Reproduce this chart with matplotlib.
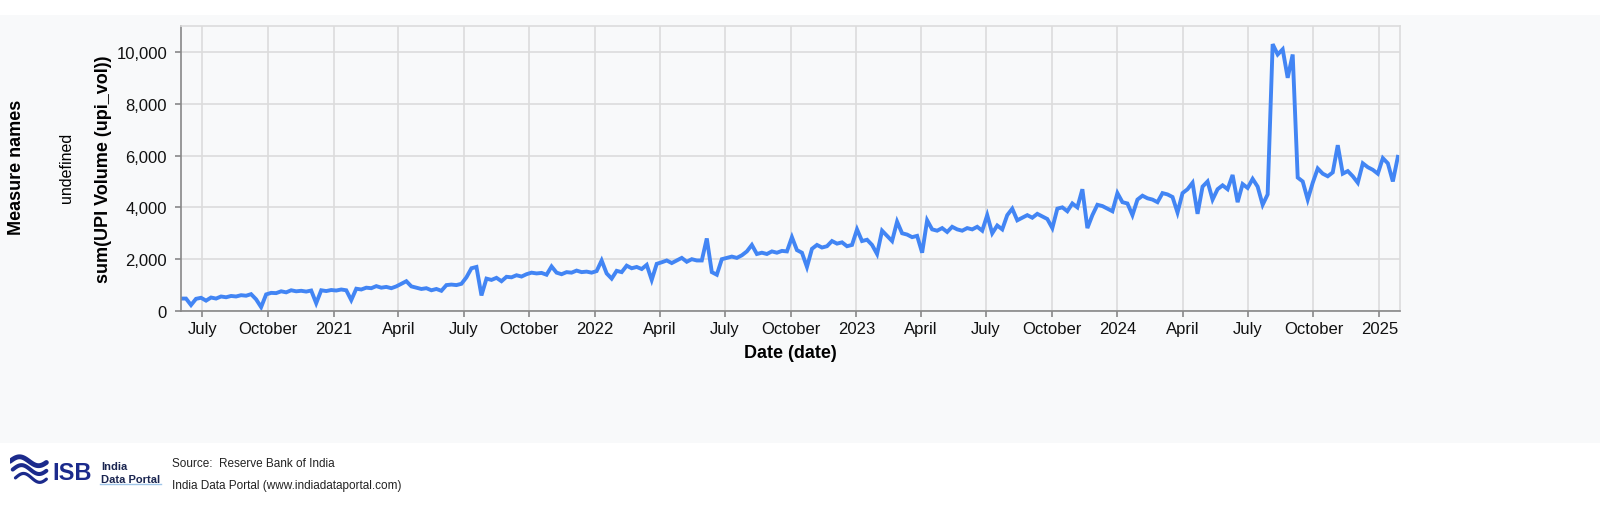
import numpy as np
import pandas as pd
import matplotlib
matplotlib.use("Agg")
import matplotlib.pyplot as plt
import matplotlib.dates as mdates
from matplotlib.patches import Rectangle
from matplotlib.ticker import FuncFormatter

plt.rcParams['font.family'] = ['Liberation Sans', 'DejaVu Sans']

# weekly readings of daily UPI volume (millions), starting 2020-06-01
start_date = '2020-06-01'
upi_vol = [
    # 2020
    480, 480, 230, 470, 510, 400, 520, 480, 560, 530, 580, 560, 610, 590, 650,
    450, 150, 640, 700, 690, 760, 720, 800, 760, 780, 750, 790, 300, 800, 770, 810,
    # 2021
    790, 830, 800, 420, 860, 830, 900, 880, 960, 900, 930, 880, 950, 1050, 1150,
    950, 900, 850, 880, 800, 850, 780, 1000, 1020, 1000, 1050, 1300, 1650, 1700,
    600, 1250, 1200, 1280, 1150, 1320, 1300, 1380, 1330, 1420, 1480, 1450, 1470,
    1400, 1720, 1480, 1420, 1500, 1480, 1560, 1500, 1520, 1480,
    # 2022
    1540, 1950, 1450, 1250, 1550, 1500, 1750, 1650, 1700, 1620, 1780, 1200, 1820,
    1880, 1950, 1850, 1950, 2050, 1900, 2000, 1950, 1950, 2800, 1500, 1400, 2000,
    2050, 2100, 2050, 2150, 2300, 2550, 2200, 2250, 2200, 2300, 2250, 2320, 2300,
    2850, 2350, 2250, 1700, 2400, 2550, 2450, 2500, 2700, 2600, 2650, 2500, 2550,
    # 2023
    3150, 2700, 2750, 2550, 2200, 3100, 2900, 2700, 3450, 3000, 2950, 2850, 2900,
    2250, 3500, 3150, 3100, 3200, 3050, 3250, 3150, 3100, 3200, 3150, 3250, 3100,
    3700, 3000, 3300, 3150, 3700, 3950, 3500, 3600, 3700, 3600, 3750, 3650, 3550,
    3200, 3950, 4000, 3850, 4150, 4000, 4700, 3200, 3700, 4100, 4050, 3950, 3850,
    4550,
    # 2024
    4200, 4150, 3700, 4300, 4450, 4350, 4300, 4200, 4550, 4500, 4400, 3800, 4550,
    4700, 4950, 3750, 4800, 5000, 4300, 4700, 4850, 4700, 5250, 4200, 4900, 4750,
    5100, 4800, 4100, 4500, 10300, 9900, 10100, 9000, 9900, 5150, 5000, 4300, 4950,
    5500, 5300, 5200, 5350, 6400, 5300, 5400, 5200, 4950, 5700, 5550, 5450, 5300,
    # 2025
    5900, 5700, 5000, 5950,
]
dates = pd.date_range(start=start_date, periods=len(upi_vol), freq='7D')

tick_dates = pd.date_range('2020-07-01', '2025-01-01', freq='3MS')
y_ticks = [0, 2000, 4000, 6000, 8000, 10000]

line_color = '#4285f4'
bg = '#f8f9fa'

fig = plt.figure(figsize=(16, 5.1), dpi=100)
fig.patch.set_facecolor('white')
fig.patches.append(Rectangle((0, 66 / 510), 1, (444 - 16) / 510, transform=fig.transFigure,
                             facecolor=bg, edgecolor='none', zorder=-10))

ax = fig.add_axes([181 / 1600, 1 - 312 / 510, (1400 - 181) / 1600, (312 - 27) / 510])
ax.set_facecolor(bg)
ax.plot(dates, upi_vol, color=line_color, linewidth=2.8, solid_joinstyle='miter')

ax.set_xlim(pd.Timestamp('2020-06-01'), pd.Timestamp('2025-01-30'))
ax.set_ylim(0, 11000)
ax.set_xticks(tick_dates)
ax.xaxis.set_major_formatter(FuncFormatter(
    lambda v, p: (str(mdates.num2date(v).year) if mdates.num2date(v).month == 1
                  else mdates.num2date(v).strftime('%B'))))
ax.set_yticks(y_ticks)
ax.yaxis.set_major_formatter(FuncFormatter(lambda v, p: f'{int(v):,}'))

ax.grid(True, color='#dcdcdc', linewidth=1.2)
ax.set_axisbelow(True)
for s in ['top', 'right']:
    ax.spines[s].set_color('#dcdcdc')
    ax.spines[s].set_linewidth(1.2)
for s in ['left', 'bottom']:
    ax.spines[s].set_color('#888888')
    ax.spines[s].set_linewidth(1.2)
ax.tick_params(axis='both', colors='#888888', length=4, width=1.2, labelsize=12,
               labelcolor='#111111')
ax.tick_params(axis='y', pad=6)
ax.tick_params(axis='x', pad=3)

ax.set_xlabel('Date (date)', fontsize=13, fontweight='bold', labelpad=6)
fig.text(103 / 1600, 1 - 169 / 510, 'sum(UPI Volume (upi_vol))', rotation=90,
         ha='center', va='center', fontsize=13, fontweight='bold')
fig.text(67 / 1600, 1 - 168 / 510, 'undefined', rotation=90, ha='center',
         va='center', fontsize=11.5)
fig.text(17 / 1600, 1 - 167 / 510, 'Measure names', rotation=90, ha='center',
         va='center', fontsize=13, fontweight='bold')

# footer
navy = '#1b2a8c'
logo = fig.add_axes([10 / 1600, 1 - 490 / 510, 40 / 1600, 37 / 510])
logo.axis('off')
t = np.linspace(0, 1, 50)
for k, off in enumerate([0.0, 0.25, 0.5]):
    logo.plot(t * (1 - off * 0.3) + off * 0.3, 0.75 - off * 0.9 + 0.12 * np.sin(t * 6),
              color=navy, linewidth=3.5 - k * 0.6, solid_capstyle='round')
logo.set_xlim(0, 1.1)
logo.set_ylim(0, 1)
fig.text(52 / 1600, 1 - 474 / 510, 'ISB', fontsize=17, fontweight='bold', color=navy,
         va='center', ha='left')
fig.text(101 / 1600, 1 - 467 / 510, 'India', fontsize=8, fontweight='bold', color='#1a2550',
         va='center')
fig.text(101 / 1600, 1 - 480 / 510, 'Data Portal', fontsize=8, fontweight='bold',
         color='#1a2550', va='center')
fig.add_artist(plt.Line2D([100 / 1600, 161 / 1600], [1 - 485 / 510, 1 - 485 / 510],
                          color='#9fc5e8', linewidth=1))
fig.text(172 / 1600, 1 - 464 / 510, 'Source:  Reserve Bank of India', fontsize=8.5,
         color='#222222', va='center')
fig.text(172 / 1600, 1 - 486 / 510, 'India Data Portal (www.indiadataportal.com)',
         fontsize=8.5, color='#222222', va='center')

fig.savefig('out.png', dpi=100, facecolor=fig.get_facecolor())
